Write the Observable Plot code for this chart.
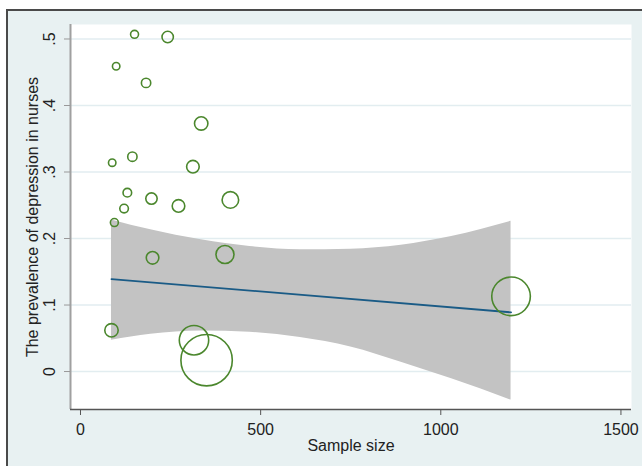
<!DOCTYPE html>
<html><head><meta charset="utf-8">
<script src="https://cdn.jsdelivr.net/npm/d3@7"></script>
<script src="https://cdn.jsdelivr.net/npm/@observablehq/plot@0.6"></script>
<style>
html,body{margin:0;padding:0;background:#fff;}
#wrap{position:relative;width:642px;height:466px;overflow:hidden;}
#bg{position:absolute;left:6px;top:9px;right:0;bottom:0;background:#e8f1f2;border-left:2px solid #4a4a4a;border-top:2px solid #4a4a4a;}
#chart{position:absolute;left:0;top:0;}
</style></head><body>
<div id="wrap"><div id="bg"></div><div id="chart"></div></div>
<script>
// Studies: sample size, prevalence, meta-regression weight (%)
const sampleSize = [86, 150, 242, 99, 182, 335, 88, 144, 312, 130, 197, 121, 272, 416, 94, 200, 401, 315, 350, 1195];
const prevalence = [0.062, 0.507, 0.503, 0.459, 0.434, 0.373, 0.314, 0.323, 0.308, 0.269, 0.260, 0.245, 0.249, 0.258, 0.224, 0.171, 0.176, 0.047, 0.017, 0.113];
const weight = [6.8, 2.4, 4.9, 2.1, 3.3, 6.8, 2.1, 3.3, 6.0, 2.8, 4.9, 2.8, 6.0, 10.4, 2.4, 6.0, 12.3, 32.7, 100, 56.4];

// Fitted line and 95% CI band
const fitN = [86, 1195];
const fitY = [0.139, 0.089];
const bandN = [86, 195, 335, 470, 610, 750, 890, 1030, 1195];
const bandLow = [0.047, 0.056, 0.061, 0.059, 0.051, 0.037, 0.014, -0.011, -0.043];
const bandHigh = [0.228, 0.213, 0.198, 0.188, 0.183, 0.184, 0.190, 0.203, 0.226];

// Axes
const xTicks = [0, 500, 1000, 1500];
const yTicks = [0, 0.1, 0.2, 0.3, 0.4, 0.5];
const xDomain = [-27.75, 1529.3];
const yDomain = [-0.0571, 0.5218];

const studies = sampleSize.map((n, i) => ({n, p: prevalence[i], w: weight[i]}));
const band = bandN.map((n, i) => ({n, lo: bandLow[i], hi: bandHigh[i]}));
const fit = fitN.map((n, i) => ({n, y: fitY[i]}));
const fmtY = d => d === 0 ? "0" : d3.format(".1f")(d).replace(/^0/, "");

const chart = Plot.plot({
  width: 642,
  height: 466,
  marginLeft: 70,
  marginRight: 11,
  marginTop: 24,
  marginBottom: 57,
  style: {background: "transparent", fontFamily: "'Liberation Sans', Arial, sans-serif", fontSize: "16px", color: "#222"},
  x: {domain: xDomain, ticks: xTicks},
  y: {domain: yDomain, ticks: yTicks},
  r: {type: "sqrt", domain: [0, 100], range: [0, 25.7]},
  marks: [
    Plot.frame({fill: "white", stroke: null}),
    Plot.gridY(yTicks, {stroke: "#e2edf0", strokeOpacity: 1, strokeWidth: 1.5}),
    Plot.areaY(band, {x: "n", y1: "lo", y2: "hi", fill: "#c3c3c3", curve: "monotone-x"}),
    Plot.line(fit, {x: "n", y: "y", stroke: "#1a5b86", strokeWidth: 1.8}),
    Plot.dot(studies, {x: "n", y: "p", r: "w", stroke: "#4b872d", strokeWidth: 1.6, fill: "none"}),
    Plot.ruleX([xDomain[0]], {stroke: "#a0a0a0", strokeWidth: 2}),
    Plot.ruleY([yDomain[0]], {stroke: "#555", strokeWidth: 1.5}),
    Plot.axisY(yTicks, {tickFormat: fmtY, tickRotate: -90, tickSize: 6, tickPadding: 10, stroke: "#999",
      label: "The prevalence of depression in nurses", labelAnchor: "center", labelArrow: false, labelOffset: 44}),
    Plot.axisX(xTicks, {tickFormat: d3.format("d"), tickSize: 6, tickPadding: 8, stroke: "#555",
      label: "Sample size", labelAnchor: "center", labelArrow: false, labelOffset: 41})
  ]
});
document.getElementById("chart").appendChild(chart);
</script>
</body></html>
